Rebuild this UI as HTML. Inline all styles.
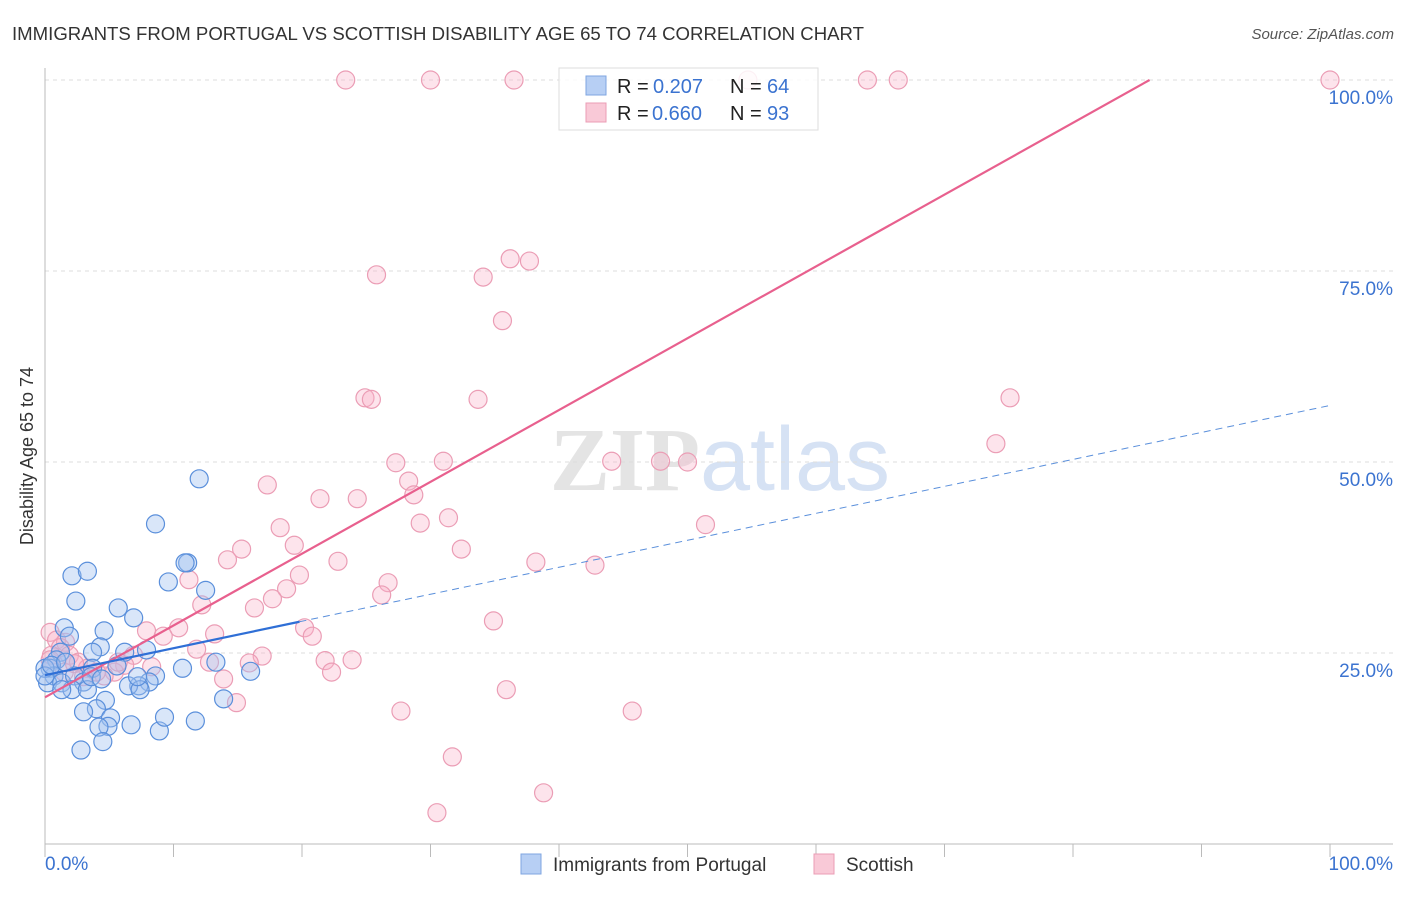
<!DOCTYPE html>
<html><head><meta charset="utf-8"><style>
body{margin:0;background:#fff;font-family:"Liberation Sans",sans-serif;}
</style></head><body>
<svg width="1406" height="892" xmlns="http://www.w3.org/2000/svg" id="chart">
<text x="12" y="40" font-size="18" fill="#333" textLength="852" lengthAdjust="spacingAndGlyphs">IMMIGRANTS FROM PORTUGAL VS SCOTTISH DISABILITY AGE 65 TO 74 CORRELATION CHART</text>
<text x="1394" y="39" font-size="15" fill="#555" text-anchor="end" font-style="italic">Source: ZipAtlas.com</text>
<text x="720" y="490" font-size="90" text-anchor="middle" fill="#e4e4e4" font-family="Liberation Serif,serif" font-weight="bold">ZIP<tspan fill="#d6e2f4" font-family="Liberation Sans,sans-serif" font-weight="normal">atlas</tspan></text>
<text transform="translate(33,456) rotate(-90)" font-size="18" fill="#333" text-anchor="middle">Disability Age 65 to 74</text>
<g id="grid"></g><g id="axes"></g><g id="pts"></g><g id="lines"></g>
<g>
<rect x="559" y="68" width="259" height="62" fill="rgba(255,255,255,0.85)" stroke="#ddd"/>
<rect x="586" y="76" width="20" height="19" fill="#b7cff4" stroke="#7fa6e0"/>
<rect x="586" y="103" width="20" height="19" fill="#f9c9d7" stroke="#eb9db5"/>
<text x="617" y="93" font-size="20" fill="#222">R =</text>
<text x="653" y="93" font-size="20" fill="#3b73d0">0.207</text>
<text x="730" y="93" font-size="20" fill="#222">N =</text>
<text x="767" y="93" font-size="20" fill="#3b73d0">64</text>
<text x="617" y="120" font-size="20" fill="#222">R =</text>
<text x="652" y="120" font-size="20" fill="#3b73d0">0.660</text>
<text x="730" y="120" font-size="20" fill="#222">N =</text>
<text x="767" y="120" font-size="20" fill="#3b73d0">93</text>
</g>
<g>
<rect x="521" y="854" width="20" height="20" fill="#b7cff4" stroke="#7fa6e0"/>
<text x="553" y="871" font-size="19" fill="#333">Immigrants from Portugal</text>
<rect x="814" y="854" width="20" height="20" fill="#f9c9d7" stroke="#eb9db5"/>
<text x="846" y="871" font-size="19" fill="#333">Scottish</text>
</g>
</svg>
<script>
const blueX=[12.0,8.6,11.1,10.9,12.5,9.6,2.1,3.3,2.4,5.7,6.9,4.6,1.5,1.9,4.3,6.2,7.9,3.7,1.2,0.9,0.4,0.7,0.2,1.3,2.3,3.7,3.0,2.1,1.3,3.3,4.7,4.0,3.0,5.1,4.9,4.2,6.7,4.5,2.8,8.9,9.3,11.7,8.6,8.1,7.3,6.5,7.4,7.2,10.7,13.3,13.9,16.0,3.6,4.4,0,0,0.5,1.6,5.6];
const blueY=[47.8,41.9,36.8,36.8,33.2,34.3,35.1,35.7,31.8,30.9,29.6,27.9,28.3,27.2,25.8,25.1,25.4,25.1,25.1,24.1,23.0,22.0,21.1,21.1,22.0,23.0,21.2,20.2,20.2,20.2,18.8,17.7,17.3,16.5,15.4,15.3,15.6,13.4,12.3,14.8,16.6,16.1,22.0,21.2,20.7,20.7,20.2,21.9,23.0,23.8,19.0,22.6,21.9,21.6,23,22,23.4,23.8,23.3];
const pinkX=[23.4,30.0,36.5,54.7,64.0,66.4,100,25.8,34.1,36.2,37.7,35.6,24.9,25.4,33.7,75.1,74.0,27.3,31.0,44.1,47.9,50.0,28.3,17.3,21.4,24.3,28.7,31.4,29.2,18.3,51.4,19.4,15.3,32.4,14.2,22.8,38.2,42.8,26.7,19.8,11.2,18.8,26.2,17.7,12.2,16.3,34.9,20.2,20.8,10.4,7.9,9.2,13.2,11.8,6.9,16.9,21.8,23.9,15.9,12.8,6.2,8.3,22.3,13.9,5.4,4.6,14.9,35.9,27.7,45.7,31.7,38.8,30.5,0.4,0.9,1.6,1.2,1.9,0.5,2.6,3.3,4.0,1.5,2.3,3.0,5.7,0.4];
const pinkY=[100,100,100,100,100,100,100,74.5,74.2,76.6,76.3,68.5,58.4,58.2,58.2,58.4,52.4,49.9,50.1,50.1,50.1,50.0,47.5,47.0,45.2,45.2,45.7,42.7,42.0,41.4,41.8,39.1,38.6,38.6,37.2,37.0,36.9,36.5,34.2,35.2,34.6,33.4,32.6,32.1,31.3,30.9,29.2,28.3,27.2,28.3,27.9,27.2,27.5,25.5,24.7,24.6,24.0,24.1,23.7,23.8,23.4,23.2,22.5,21.6,22.5,22.0,18.5,20.2,17.4,17.4,11.4,6.7,4.1,27.7,26.7,26.4,25.7,24.7,24.7,23.8,23.0,22.5,22.5,23.6,21.9,23.8,24.1];
const yTicks=[25,50,75,100];
const yTickLabels=["25.0%","50.0%","75.0%","100.0%"];
const pinkFit=[19.2,0.94];
const blueFit=[22.1,0.353,19.8];
const X0=45,X1=1330,YB=844,YT=80;
const sx=v=>X0+(X1-X0)*v/100, sy=v=>YB-(YB-YT)*v/100;
const NS="http://www.w3.org/2000/svg";
function mk(p,t,a){const e=document.createElementNS(NS,t);for(const k in a)e.setAttribute(k,a[k]);p.appendChild(e);return e;}
const grid=document.getElementById('grid'),axes=document.getElementById('axes'),pts=document.getElementById('pts'),lines=document.getElementById('lines');
yTicks.forEach((t,i)=>{
 const l=mk(grid,'line',{x1:X0,x2:1393,y1:sy(t),y2:sy(t),stroke:'#ddd','stroke-dasharray':'4,4'});
 
 
 const tx=mk(grid,'text',{x:1393,y:sy(t)+24,'font-size':19,fill:'#3b73d0','text-anchor':'end'});
 tx.textContent=yTickLabels[i];
 
 
});
let a=mk(axes,'line',{x1:X0,x2:X0,y1:68,y2:YB,stroke:'#bbb'});


a=mk(axes,'line',{x1:X0,x2:1393,y1:YB,y2:YB,stroke:'#bbb'});


for(let i=0;i<=10;i++){const t=mk(axes,'line',{x1:sx(i*10),x2:sx(i*10),y1:YB,y2:YB+13,stroke:'#bbb'});
 
 }
let xl=mk(axes,'text',{x:45,y:870,'font-size':19,fill:'#3b73d0'});xl.textContent='0.0%';


xl=mk(axes,'text',{x:1393,y:870,'font-size':19,fill:'#3b73d0','text-anchor':'end'});xl.textContent='100.0%';


pinkX.forEach((x,i)=>{const c=mk(pts,'circle',{cx:sx(x),cy:sy(pinkY[i]),r:9,fill:'rgba(248,178,200,0.35)',stroke:'#eb9db5','stroke-width':1.2});
 
 });
blueX.forEach((x,i)=>{const c=mk(pts,'circle',{cx:sx(x),cy:sy(blueY[i]),r:9,fill:'rgba(160,192,240,0.4)',stroke:'#5a8fdb','stroke-width':1.2});
 
 });
const pEnd=(100-pinkFit[0])/pinkFit[1];
let ln=mk(lines,'line',{x1:sx(0),y1:sy(pinkFit[0]),x2:sx(pEnd),y2:sy(100),stroke:'#e8608e','stroke-width':2.2});


ln=mk(lines,'line',{x1:sx(0),y1:sy(blueFit[0]),x2:sx(blueFit[2]),y2:sy(blueFit[0]+blueFit[1]*blueFit[2]),stroke:'#2f6fd6','stroke-width':2.2});


ln=mk(lines,'line',{x1:sx(blueFit[2]),y1:sy(blueFit[0]+blueFit[1]*blueFit[2]),x2:sx(100),y2:sy(blueFit[0]+blueFit[1]*100),stroke:'#5a8fdb','stroke-width':1,'stroke-dasharray':'7,5'});


</script>
</body></html>
